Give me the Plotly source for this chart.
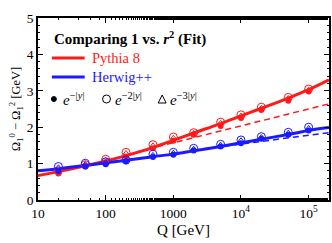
import plotly.graph_objects as go

# ---- data ----
Q_pts = [20, 50, 100, 200, 500, 1000, 2000, 5000, 1e4, 2e4, 5e4, 1e5]
red_e1 = [0.73, 0.92, 1.01, 1.19, 1.42, 1.63, 1.79, 2.03, 2.25, 2.47, 2.73, 2.98]
red_e2 = [0.80, 0.97, 1.12, 1.31, 1.52, 1.73, 1.85, 2.14, 2.34, 2.55, 2.82, 3.05]
red_e3 = [0.79, 0.96, 1.10, 1.29, 1.50, 1.71, 1.84, 2.12, 2.32, 2.53, 2.80, 3.03]
blue_e1 = [0.80, 0.92, 0.98, 1.06, 1.18, 1.24, 1.36, 1.47, 1.56, 1.68, 1.79, 1.91]
blue_e2 = [0.92, 1.01, 1.05, 1.10, 1.26, 1.31, 1.42, 1.53, 1.65, 1.74, 1.86, 2.00]
blue_e3 = [0.90, 0.99, 1.04, 1.09, 1.24, 1.30, 1.41, 1.52, 1.64, 1.73, 1.85, 1.98]

Q_fit = [10, 20, 50, 100, 200, 500, 1000, 2000, 5000, 1e4, 2e4, 5e4, 1e5, 2e5]
red_fit = [0.67, 0.78, 0.94, 1.07, 1.22, 1.44, 1.64, 1.84, 2.10, 2.31, 2.52, 2.80, 3.03, 3.30]
blue_fit = [0.80, 0.86, 0.95, 1.02, 1.09, 1.19, 1.26, 1.35, 1.47, 1.57, 1.67, 1.80, 1.91, 1.99]

Q_red_dash = [300, 2e5]
red_dash = [1.33, 2.64]
Q_blue_dash = [2000, 2e5]
blue_dash = [1.37, 1.85]

x_tickvals = [10, 100, 1000, 1e4, 1e5]
x_ticktext = ["10", "100", "1000", "10<sup>4</sup>", "10<sup>5</sup>"]
y_tickvals = [0, 1, 2, 3, 4, 5]

RED = "#ff1a1a"
BLUE = "#1a1aff"
FONT = "Liberation Serif, Times New Roman, DejaVu Serif, serif"

fig = go.Figure()

# dashed linear fits
fig.add_trace(go.Scatter(x=Q_red_dash, y=red_dash, mode="lines",
                         line=dict(color=RED, width=1.5, dash="6px,4px"), showlegend=False))
fig.add_trace(go.Scatter(x=Q_blue_dash, y=blue_dash, mode="lines",
                         line=dict(color=BLUE, width=1.5, dash="6px,4px"), showlegend=False))

# solid fits
fig.add_trace(go.Scatter(x=Q_fit, y=red_fit, mode="lines", line_shape="spline",
                         line=dict(color=RED, width=3), showlegend=False))
fig.add_trace(go.Scatter(x=Q_fit, y=blue_fit, mode="lines", line_shape="spline",
                         line=dict(color=BLUE, width=3), showlegend=False))

# data points
for col, e1, e2, e3 in [(RED, red_e1, red_e2, red_e3), (BLUE, blue_e1, blue_e2, blue_e3)]:
    fig.add_trace(go.Scatter(x=Q_pts, y=e2, mode="markers", showlegend=False,
                             marker=dict(symbol="circle-open", size=8, color=col, line=dict(width=1))))
    fig.add_trace(go.Scatter(x=Q_pts, y=e3, mode="markers", showlegend=False,
                             marker=dict(symbol="triangle-up-open", size=5, color=col, line=dict(width=1))))
    fig.add_trace(go.Scatter(x=Q_pts, y=e1, mode="markers", showlegend=False,
                             marker=dict(symbol="circle", size=6, color=col)))

X0, W = 38, 293
Y0, H = 200, 182
def px(x):
    return (x - X0) / W
def py(y):
    return (Y0 - y) / H

annotations = [
    dict(text="<b>Comparing 1 vs. <i>r</i><sup>2</sup> (Fit)</b>", x=px(52), y=py(38),
         xanchor="left", yanchor="middle", font=dict(size=15, color="black")),
    dict(text="Pythia 8", x=px(90), y=py(58), xanchor="left", yanchor="middle",
         font=dict(size=14.5, color=RED)),
    dict(text="Herwig++", x=px(90), y=py(77), xanchor="left", yanchor="middle",
         font=dict(size=14.5, color=BLUE)),
    dict(text="<i>e</i><sup>−|<i>y</i>|</sup>", x=px(61), y=py(99), xanchor="left", yanchor="middle",
         font=dict(size=15, color="black")),
    dict(text="<i>e</i><sup>−2|<i>y</i>|</sup>", x=px(114), y=py(99), xanchor="left", yanchor="middle",
         font=dict(size=15, color="black")),
    dict(text="<i>e</i><sup>−3|<i>y</i>|</sup>", x=px(169), y=py(99), xanchor="left", yanchor="middle",
         font=dict(size=15, color="black")),
]
for a in annotations:
    a.update(xref="paper", yref="paper", showarrow=False)

shapes = [
    dict(type="line", x0=px(52), x1=px(85), y0=py(58), y1=py(58), line=dict(color=RED, width=3)),
    dict(type="line", x0=px(52), x1=px(85), y0=py(77), y1=py(77), line=dict(color=BLUE, width=3)),
    dict(type="circle", x0=px(51.5), x1=px(56.5), y0=py(96.5), y1=py(101.5),
         fillcolor="black", line=dict(color="black", width=1)),
    dict(type="circle", x0=px(103), x1=px(111), y0=py(95), y1=py(103),
         line=dict(color="black", width=1)),
    dict(type="path",
         path=f"M {px(159)} {py(103)} L {px(167)} {py(103)} L {px(163)} {py(95)} Z",
         line=dict(color="black", width=1)),
]
for s in shapes:
    s.update(xref="paper", yref="paper")

fig.update_layout(
    width=332, height=243,
    margin=dict(l=38, r=1, t=18, b=43),
    paper_bgcolor="white", plot_bgcolor="white",
    font=dict(family=FONT, size=13, color="black"),
    annotations=annotations, shapes=shapes,
    showlegend=False,
)
fig.update_xaxes(
    type="log", range=[1, 5.301],
    tickvals=x_tickvals, ticktext=x_ticktext,
    ticks="inside", ticklen=5, tickwidth=1, tickcolor="black",
    minor=dict(ticks="inside", ticklen=2.5, tickcolor="black", showgrid=False),
    showline=True, linecolor="black", linewidth=1.5, mirror="ticks",
    showgrid=False, zeroline=False,
    tickfont=dict(size=13.5),
    title=dict(text="Q [GeV]", standoff=5, font=dict(size=15)),
)
fig.update_yaxes(
    range=[0, 5], tickvals=y_tickvals,
    ticks="inside", ticklen=5, tickwidth=1, tickcolor="black",
    minor=dict(ticks="inside", ticklen=2.5, dtick=0.2, tickcolor="black", showgrid=False),
    showline=True, linecolor="black", linewidth=1.5, mirror="ticks",
    showgrid=False, zeroline=False,
    tickfont=dict(size=13.5),
    title=dict(text="Ω<sub>1</sub><sup>0</sup> − Ω<sub>1</sub><sup>2</sup> [GeV]", standoff=3, font=dict(size=12.5)),
)

fig.write_html("out.html", config={"displayModeBar": False},
               post_script="document.body.style.margin='0';")
